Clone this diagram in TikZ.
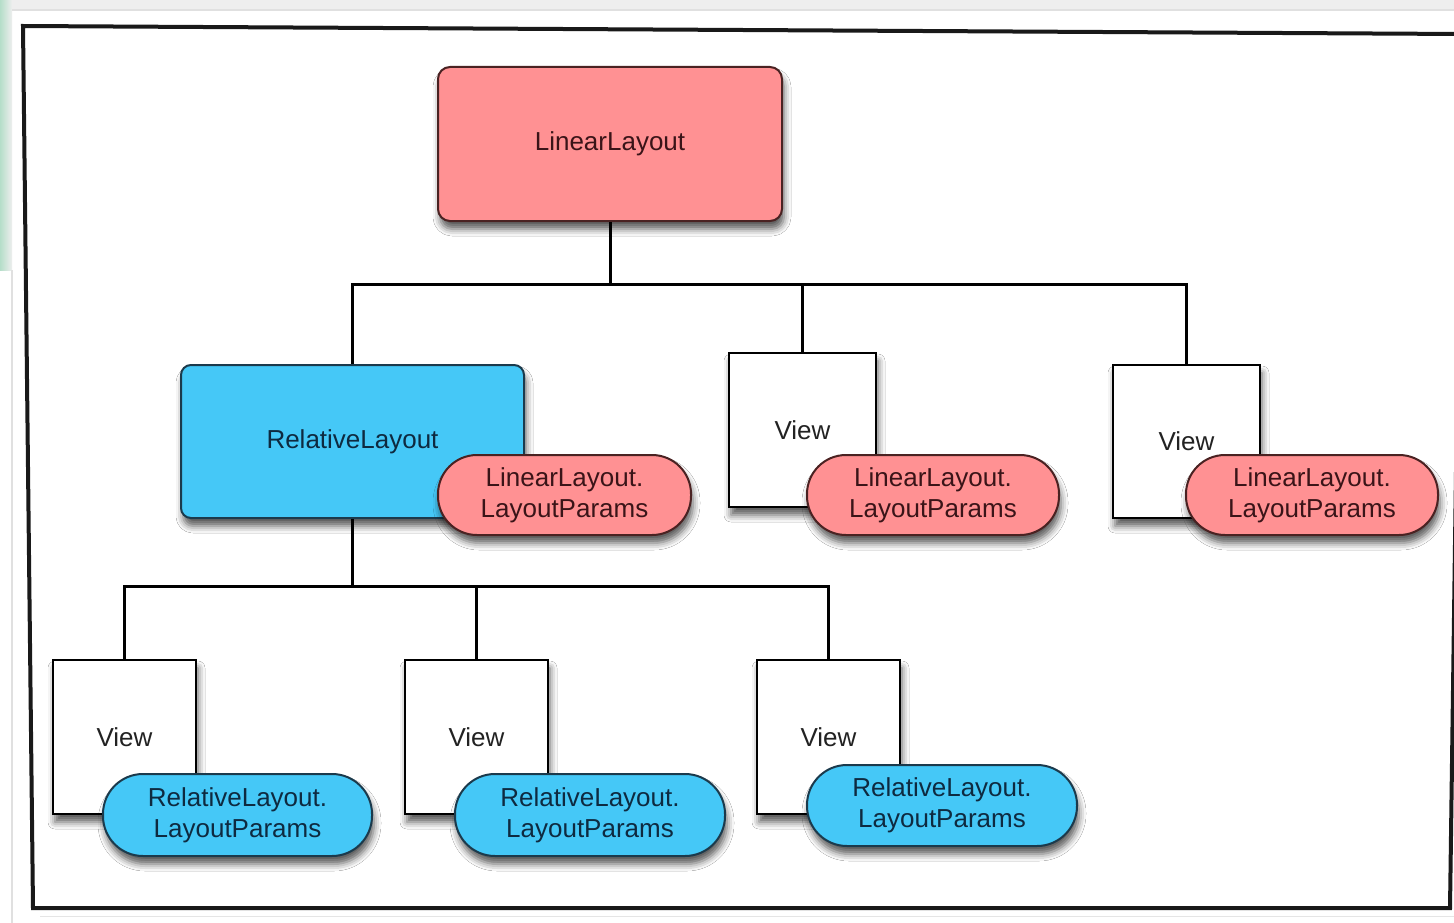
\documentclass[tikz,border=0pt]{standalone}
\usepackage{fontspec}
\setmainfont{Liberation Sans}
\usetikzlibrary{shadows,shadows.blur}
\definecolor{pinkfill}{HTML}{FF9193}
\definecolor{pinkdraw}{HTML}{4A2222}
\definecolor{pinktext}{HTML}{3A1418}
\definecolor{bluefill}{HTML}{45C8F7}
\definecolor{bluedraw}{HTML}{1B3A4C}
\definecolor{bluetext}{HTML}{0E2A40}
\definecolor{viewtext}{HTML}{222222}
\definecolor{greenedge}{HTML}{B5DEC9}
\definecolor{outergray}{HTML}{EEEEEE}
\tikzset{
  every node/.style={font=\fontsize{26}{31}\selectfont, align=center, inner sep=0pt},
  shad/.style={blur shadow={shadow xshift=2pt, shadow yshift=-8pt, shadow blur radius=7pt, shadow opacity=65}},
  pinkbox/.style={shad, draw=pinkdraw, line width=2pt, fill=pinkfill, text=pinktext, rounded corners=12pt},
  bluebox/.style={shad, draw=bluedraw, line width=2pt, fill=bluefill, text=bluetext, rounded corners=10pt},
  viewbox/.style={shad, draw=black, line width=2pt, fill=white, text=viewtext},
  pinkpill/.style={shad, draw=pinkdraw, line width=2pt, fill=pinkfill, text=pinktext, rounded corners=39pt},
  bluepill/.style={shad, draw=bluedraw, line width=2pt, fill=bluefill, text=bluetext, rounded corners=40pt},
  conn/.style={draw=black, line width=3pt},
  frameline/.style={draw=black!90, line width=4pt, line join=miter}
}
\begin{document}
\begin{tikzpicture}[x=1pt, y=-1pt]
\useasboundingbox (0,0) rectangle (1454,923);
\clip (0,0) rectangle (1454,923);
% outer background
\fill[white] (0,0) rectangle (1454,923);
\fill[outergray] (0,0) rectangle (1454,10);
\shade[left color=greenedge, right color=outergray] (0,0) rectangle (12,270);
\draw[black!12, line width=1.5pt] (12,10) -- (1454,10);
\draw[black!12, line width=1.5pt] (12,270) -- (12,923);
\draw[black!10, line width=1pt] (40,916) -- (1454,916);
% frame
\draw[frameline] (23,26) -- (1462,34) -- (1450,908) -- (33,908) -- cycle;

% nodes
\node[pinkbox, minimum width=344pt, minimum height=154pt] (root) at (610,144) {LinearLayout};
\node[bluebox, minimum width=343pt, minimum height=153pt] (rel) at (352.5,441.5) {RelativeLayout};
\node[viewbox, minimum width=147pt, minimum height=154pt] (v2) at (802.5,430) {View};
\node[viewbox, minimum width=147pt, minimum height=153pt] (v3) at (1186.5,441.5) {View};
\node[viewbox, minimum width=143pt, minimum height=154pt] (v4) at (124.5,737) {View};
\node[viewbox, minimum width=143pt, minimum height=154pt] (v5) at (476.5,737) {View};
\node[viewbox, minimum width=143pt, minimum height=154pt] (v6) at (828.5,737) {View};

% bus coordinates
\coordinate (bus1) at (0,284);
\coordinate (bus2) at (0,586);

% connectors
\draw[conn] (root.south) -- (root.south |- bus1) -| (rel.north);
\draw[conn] (root.south) -- (root.south |- bus1) -| (v2.north);
\draw[conn] (root.south) -- (root.south |- bus1) -| (v3.north);
\draw[conn] (rel.south) -- (rel.south |- bus2) -| (v4.north);
\draw[conn] (rel.south) -- (rel.south |- bus2) -| (v5.north);
\draw[conn] (rel.south) -- (rel.south |- bus2) -| (v6.north);

% pills
\node[pinkpill, minimum width=253pt, minimum height=80pt] (p1) at (564.5,495) {LinearLayout.\\LayoutParams};
\node[pinkpill, minimum width=252pt, minimum height=80pt] (p2) at (933,495) {LinearLayout.\\LayoutParams};
\node[pinkpill, minimum width=252pt, minimum height=80pt] (p3) at (1312,495) {LinearLayout.\\LayoutParams};
\node[bluepill, minimum width=269pt, minimum height=82pt] (p4) at (237.5,815) {RelativeLayout.\\LayoutParams};
\node[bluepill, minimum width=270pt, minimum height=82pt] (p5) at (590,815) {RelativeLayout.\\LayoutParams};
\node[bluepill, minimum width=270pt, minimum height=81pt] (p6) at (942,805.5) {RelativeLayout.\\LayoutParams};
\end{tikzpicture}
\end{document}
